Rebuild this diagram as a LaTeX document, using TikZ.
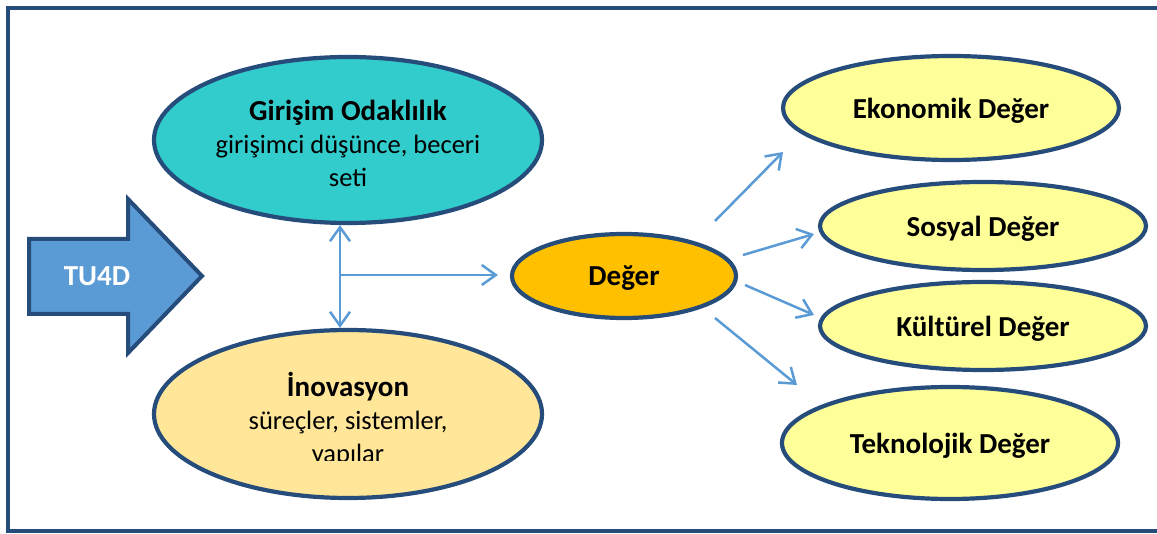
\documentclass[tikz,border=0pt]{standalone}
\usepackage{fontspec}
\setmainfont{Carlito}
\usetikzlibrary{shapes.geometric,arrows.meta}
\definecolor{dkb}{RGB}{37,76,122}
\definecolor{arrblue}{RGB}{91,155,213}
\definecolor{teal}{RGB}{51,204,204}
\definecolor{inovy}{RGB}{255,230,153}
\definecolor{degy}{RGB}{255,192,0}
\definecolor{lighty}{RGB}{255,255,153}
\tikzset{
  ell/.style={ellipse, draw=dkb, line width=4.2pt, inner sep=0pt},
  arr/.style={draw=arrblue, line width=2.5pt, -{Straight Barb[length=14pt,width=20pt,line width=2.5pt]}},
  dblarr/.style={draw=arrblue, line width=2.5pt, {Straight Barb[length=14pt,width=20pt,line width=2.5pt]}-{Straight Barb[length=14pt,width=20pt,line width=2.5pt]}},
  big/.style={font=\fontsize{29}{34}\selectfont\bfseries, text depth=0pt},
  multi/.style={align=center, font=\fontsize{26.5}{33}\selectfont},
}
\newcommand{\ttl}[1]{{\fontsize{29}{33}\selectfont\bfseries #1}}
\begin{document}
\begin{tikzpicture}[x=1pt,y=-1pt]
\useasboundingbox (0,0) rectangle (1157,534);
% frame (no right side)
\draw[dkb, line width=4pt] (1160,8) -- (8,8) -- (8,531) -- (1160,531);
% TU4D arrow
\draw[dkb, line width=4pt, fill=arrblue, line join=miter]
  (29,239) -- (128,239) -- (128,199) -- (202,276) -- (128,353) -- (128,314) -- (29,314) -- cycle;
\node[big, text=white] (tu) at (97,276) {TU4D};
% left ellipses
\node[ell, fill=teal, minimum width=388pt, minimum height=166pt] (gir) at (348,140) {};
\node[multi] (girt) at (348,143) {\ttl{Girişim Odaklılık}\\girişimci düşünce, beceri\\seti};
\node[ell, fill=inovy, minimum width=388pt, minimum height=168pt] (inov) at (348,414) {};
\begin{scope}
\clip (150,300) rectangle (550,461);
\node[multi] (inovt) at (348,420) {\ttl{İnovasyon}\\süreçler, sistemler,\\yapılar};
\end{scope}
% centre
\node[ell, fill=degy, minimum width=224pt, minimum height=84pt, big] (deg) at (624,276) {Değer};
% right ellipses
\node[ell, fill=lighty, minimum width=336pt, minimum height=104pt, big] (eko) at (951,108) {Ekonomik Değer};
\node[ell, fill=lighty, minimum width=326pt, minimum height=88pt, big] (sos) at (983,226) {Sosyal Değer};
\node[ell, fill=lighty, minimum width=326pt, minimum height=88pt, big] (kul) at (983,326) {Kültürel Değer};
\node[ell, fill=lighty, minimum width=336pt, minimum height=112pt, big] (tek) at (950,443) {Teknolojik Değer};
% connectors
\coordinate (vx) at (340,0);
\coordinate (hj) at (340,275);
\draw[dblarr] (gir.south -| vx) -- (inov.north -| vx);
\draw[arr, shorten >=12pt] (hj) -- (deg.west |- hj);
\coordinate (s1) at (715,221); \coordinate (e1) at (783,152);
\coordinate (s2) at (743,255); \coordinate (e2) at (814,234);
\coordinate (s3) at (745,285); \coordinate (e3) at (814,315);
\coordinate (s4) at (715,318); \coordinate (e4) at (797,385);
\draw[arr] (s1) -- (e1);
\draw[arr] (s2) -- (e2);
\draw[arr] (s3) -- (e3);
\draw[arr] (s4) -- (e4);
\end{tikzpicture}
\end{document}
